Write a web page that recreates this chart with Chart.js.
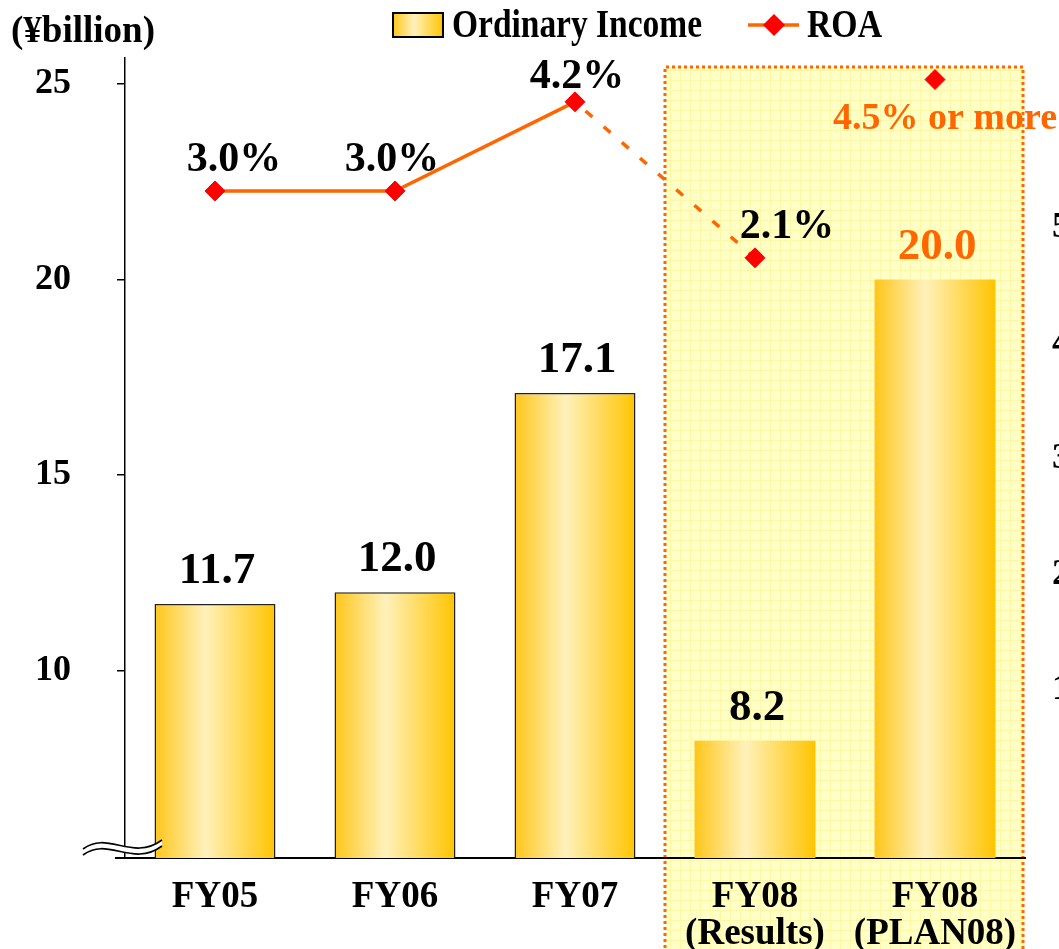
<!DOCTYPE html>
<html>
<head>
<meta charset="utf-8">
<title>Ordinary Income and ROA</title>
<script src="https://cdn.jsdelivr.net/npm/chart.js@4/dist/chart.umd.min.js"></script>
<style>
  html, body { margin: 0; padding: 0; background: #fff; overflow: hidden; }
  #wrap { width: 1059px; height: 949px; overflow: hidden; }
</style>
</head>
<body>
<div id="wrap"><canvas id="chart" width="1100" height="949"></canvas></div>
<script>
// ── data ──
const categories  = ['FY05', 'FY06', 'FY07', ['FY08', '(Results)'], ['FY08', '(PLAN08)']];
const incomeVals  = [11.7, 12.0, 17.1, 8.2, 20.0];
const roaVals     = [3.0, 3.0, 4.2, 2.1, 4.5];
const roaLabels   = ['3.0%', '3.0%', '4.2%', '2.1%', '4.5% or more'];
const incomeTicks = [10, 15, 20, 25];
const rateTicks   = [1, 2, 3, 4, 5];

const FONT   = '"Liberation Serif", "Times New Roman", serif';
const ORANGE = '#ff6600';

function goldGradient(c, x0, x1) {
  const g = c.createLinearGradient(x0, 0, x1, 0);
  g.addColorStop(0, '#ffc61a');
  g.addColorStop(0.42, '#fff1bb');
  g.addColorStop(1, '#ffc400');
  return g;
}

function barFill(ctx) {
  const chart = ctx.chart;
  if (!chart.chartArea || ctx.dataIndex === undefined) return '#ffd84d';
  const x = chart.scales.x.getPixelForValue(ctx.dataIndex);
  return goldGradient(chart.ctx, x - 60.5, x + 60.5);
}

// little grid texture for the highlighted FY08 block
function gridPattern(c) {
  const p = document.createElement('canvas');
  p.width = 10; p.height = 10;
  const pc = p.getContext('2d');
  pc.fillStyle = '#ffffc8'; pc.fillRect(0, 0, 10, 10);
  pc.fillStyle = '#fff7a6';
  pc.fillRect(0, 0, 10, 1); pc.fillRect(0, 0, 1, 10);
  return c.createPattern(p, 'repeat');
}

// squeeze text horizontally to a target width (slide text is condensed)
function condensed(c, txt, x, y, w) {
  const k = w / c.measureText(txt).width;
  c.save(); c.translate(x, y); c.scale(k, 1);
  c.fillText(txt, 0, 0);
  c.restore();
}

const noPad = s => { s.paddingTop = 0; s.paddingBottom = 0; };

const decor = {
  id: 'decor',
  beforeDraw(chart) {
    const { ctx, chartArea, scales } = chart;
    const left = (scales.x.getPixelForValue(2) + scales.x.getPixelForValue(3)) / 2;
    const right = chartArea.right - 2;
    const top = chartArea.top + 9;
    ctx.save();
    ctx.fillStyle = gridPattern(ctx);
    ctx.fillRect(left, top, right - left, chart.height - top + 5);
    ctx.strokeStyle = ORANGE; ctx.lineWidth = 3; ctx.setLineDash([3, 3]);
    ctx.beginPath();
    ctx.moveTo(left, chart.height + 5); ctx.lineTo(left, top);
    ctx.lineTo(right, top); ctx.lineTo(right, chart.height + 5);
    ctx.stroke();
    ctx.restore();

    // title + legend
    ctx.save();
    ctx.fillStyle = '#000';
    ctx.textBaseline = 'alphabetic';
    ctx.font = `bold 38px ${FONT}`;
    condensed(ctx, '(¥billion)', 11, 42, 144);
    ctx.fillStyle = goldGradient(ctx, 393, 443);
    ctx.fillRect(393, 13, 50, 24);
    ctx.strokeStyle = '#000'; ctx.lineWidth = 2;
    ctx.strokeRect(393, 13, 50, 24);
    ctx.fillStyle = '#000';
    ctx.font = `bold 40px ${FONT}`;
    condensed(ctx, 'Ordinary Income', 452, 37, 250);
    ctx.strokeStyle = ORANGE; ctx.lineWidth = 3.5;
    ctx.beginPath(); ctx.moveTo(748, 25); ctx.lineTo(799, 25); ctx.stroke();
    ctx.fillStyle = '#ff0000';
    ctx.beginPath();
    ctx.moveTo(774, 14); ctx.lineTo(785, 25); ctx.lineTo(774, 36); ctx.lineTo(763, 25);
    ctx.closePath(); ctx.fill();
    ctx.fillStyle = '#000';
    condensed(ctx, 'ROA', 807, 37, 75);
    ctx.restore();
  },
  afterDatasetsDraw(chart) {
    const { ctx } = chart;
    const bars = chart.getDatasetMeta(1).data;
    const pts  = chart.getDatasetMeta(0).data;
    ctx.save();
    ctx.textAlign = 'center';
    ctx.textBaseline = 'alphabetic';
    ctx.font = `bold 45px ${FONT}`;
    bars.forEach((b, i) => {
      ctx.fillStyle = i === 4 ? ORANGE : '#000';
      ctx.fillText(incomeVals[i].toFixed(1), b.x + 2, b.y - 21);
    });
    // ROA labels, nudged like the original slide
    const nudge = [[19, -20], [-3, -20], [2, -14], [32, -20], [10, 49]];
    pts.forEach((p, i) => {
      ctx.fillStyle = i === 4 ? ORANGE : '#000';
      ctx.font = i === 4 ? `bold 38px ${FONT}` : `bold 42px ${FONT}`;
      ctx.fillText(roaLabels[i], p.x + nudge[i][0], p.y + nudge[i][1]);
    });
    ctx.restore();
  },
  afterDraw(chart) {
    const { ctx, chartArea } = chart;
    const x0 = chartArea.left, yb = chartArea.bottom;
    ctx.save();
    ctx.strokeStyle = '#000'; ctx.lineWidth = 2;
    ctx.beginPath(); ctx.moveTo(x0 - 10, yb); ctx.lineTo(x0, yb); ctx.stroke();
    // axis break symbol
    ctx.beginPath();
    ctx.moveTo(83, 849);
    ctx.bezierCurveTo(108, 830, 132, 862, 162, 840);
    ctx.lineTo(162, 846);
    ctx.bezierCurveTo(132, 868, 108, 836, 83, 855);
    ctx.closePath();
    ctx.fillStyle = '#fff'; ctx.fill();
    ctx.lineWidth = 1.6;
    ctx.beginPath();
    ctx.moveTo(83, 849); ctx.bezierCurveTo(108, 830, 132, 862, 162, 840);
    ctx.moveTo(83, 855); ctx.bezierCurveTo(108, 836, 132, 868, 162, 846);
    ctx.stroke();
    ctx.restore();
  },
};

new Chart(document.getElementById('chart'), {
  data: {
    labels: categories,
    datasets: [
      {
        type: 'line', label: 'ROA', data: roaVals, yAxisID: 'yRoa', order: 0,
        borderColor: ORANGE, borderWidth: 3.5, tension: 0,
        pointStyle: 'rectRot', pointRadius: 10, pointHoverRadius: 10,
        pointBackgroundColor: '#ff0000', pointBorderColor: '#ff0000', pointBorderWidth: 1,
        segment: {
          borderDash: c => c.p0DataIndex === 2 ? [9, 15] : undefined,
          borderDashOffset: c => c.p0DataIndex === 2 ? -14 : undefined,
          borderColor: c => c.p0DataIndex === 3 ? 'rgba(0,0,0,0)' : undefined,
        },
      },
      {
        type: 'bar', label: 'Ordinary Income', data: incomeVals, yAxisID: 'y', order: 1,
        backgroundColor: barFill,
        borderColor: '#222', borderWidth: [1.5, 1.5, 1.5, 0, 0],
        barPercentage: 0.672, categoryPercentage: 1,
      },
    ],
  },
  options: {
    responsive: false,
    animation: false,
    layout: { padding: { top: 58, left: 0, right: 0, bottom: 0 } },
    plugins: { legend: { display: false }, tooltip: { enabled: false } },
    scales: {
      x: {
        grid: { display: false },
        border: { display: true, color: '#000', width: 2 },
        ticks: { color: '#000', font: { family: FONT, size: 37, weight: 'bold', lineHeight: 1.0 },
                 padding: 13, maxRotation: 0, autoSkip: false },
        afterFit: s => { s.height = 91; },
      },
      y: {
        position: 'left', min: 5.2, max: 25.67,
        grid: { display: true, drawOnChartArea: false, drawTicks: true, tickLength: 8, color: '#000', lineWidth: 1.5 },
        border: { display: true, color: '#000', width: 1.5 },
        ticks: { color: '#000', font: { family: FONT, size: 36, weight: 'bold' }, padding: 46 },
        afterBuildTicks: s => { s.ticks = incomeTicks.map(v => ({ value: v })); },
        afterFit: s => { s.width = 125; noPad(s); },
      },
      yRoa: { display: false, min: -5.98, max: 4.79 },
      yRate: {
        position: 'right', min: -0.455, max: 6.47,
        grid: { display: false, drawTicks: false },
        border: { display: false },
        ticks: { color: '#000', font: { family: FONT, size: 36, weight: 'bold' }, padding: 27,
                 callback: v => v + '%' },
        afterBuildTicks: s => { s.ticks = rateTicks.map(v => ({ value: v })); },
        afterFit: s => { s.width = 75; noPad(s); },
      },
    },
  },
  plugins: [decor],
});
</script>
</body>
</html>
